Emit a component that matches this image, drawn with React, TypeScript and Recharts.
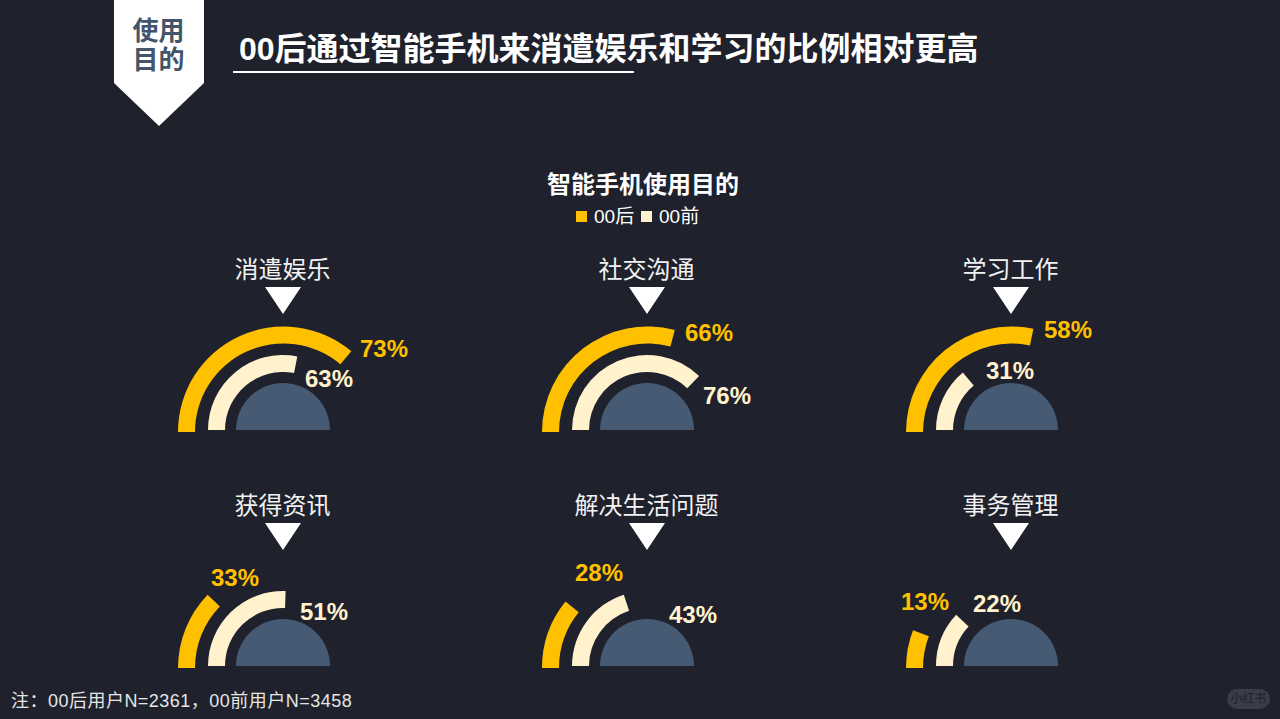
import React from 'react';
import { PieChart, Pie, Cell } from 'recharts';

const categories = ['消遣娱乐', '社交沟通', '学习工作', '获得资讯', '解决生活问题', '事务管理'];
// printed percentages
const after00 = [73, 66, 58, 33, 28, 13];
const before00 = [63, 76, 31, 51, 43, 22];
// how far each arc really goes round the half circle, in degrees (read off the picture, not the same as the labels)
const after00Sweep = [130, 105, 102, 44, 39, 21];
const before00Sweep = [101, 134, 50, 92, 72, 43];

const BG = '#1f212c';
const YELLOW = '#ffc000';
const CREAM = '#fff2cc';
const SLATE = '#475a73';
const FONT = '"Liberation Sans", "Noto Sans CJK SC", sans-serif';

const colX = [283, 647, 1011];
const rowY = [430, 666];
const after00Label = [[384, 349], [709, 333], [1068, 330], [235, 578], [599, 573], [925, 602]];
const before00Label = [[329, 379], [727, 396], [1010, 371], [324, 612], [693, 615], [997, 604]];

const centerOf = (i: number) => ({ x: colX[i % 3], y: rowY[Math.floor(i / 3)] });
const arc = (sweep: number) => [{ value: sweep }, { value: 180 - sweep }];

function Gauge(i: number) {
  const { x, y } = centerOf(i);
  const common = { dataKey: 'value', startAngle: 180, endAngle: 0, stroke: 'none', isAnimationActive: false };
  return [
    <Pie key={`a${i}`} {...common} data={arc(after00Sweep[i])} cx={x + 0.5} cy={y + 2} innerRadius={88.5} outerRadius={105.5}>
      <Cell fill={YELLOW} />
      <Cell fill="transparent" />
    </Pie>,
    <Pie key={`b${i}`} {...common} data={arc(before00Sweep[i])} cx={x} cy={y} innerRadius={58} outerRadius={75}>
      <Cell fill={CREAM} />
      <Cell fill="transparent" />
    </Pie>,
    <Pie key={`c${i}`} {...common} data={[{ value: 100 }]} cx={x} cy={y} innerRadius={0} outerRadius={47} fill={SLATE} />,
  ];
}

export default function App() {
  return (
    <div style={{ position: 'fixed', left: 0, top: 0, width: 1280, height: 719, background: BG, overflow: 'hidden' }}>
      <PieChart width={1280} height={719} margin={{ top: 0, right: 0, bottom: 0, left: 0 }} style={{ position: 'absolute', left: 0, top: 0 }}>
        {categories.map((_, i) => Gauge(i))}
      </PieChart>
      <svg width={1280} height={719} style={{ position: 'absolute', left: 0, top: 0 }} fontFamily={FONT}>
        <polygon points="114,0 204,0 204,83 159,126 114,83" fill="#fff" />
        <g fontWeight={700} fontSize={26} fill="#44546a" textAnchor="middle">
          <text x={158.5} y={40}>使用</text>
          <text x={158.5} y={69}>目的</text>
        </g>
        <text x={239} y={60} fontWeight={700} fontSize={32} fill="#fff">00后通过智能手机来消遣娱乐和学习的比例相对更高</text>
        <rect x={233} y={71} width={401} height={2} fill="#fff" />

        <text x={643} y={193} fontWeight={700} fontSize={24} fill="#fff" textAnchor="middle">智能手机使用目的</text>
        <rect x={576} y={211} width={11} height={11} fill={YELLOW} />
        <text x={594} y={223} fontSize={19} fill="#fff">00后</text>
        <rect x={641} y={211} width={11} height={11} fill={CREAM} />
        <text x={659} y={223} fontSize={19} fill="#fff">00前</text>

        {categories.map((name, i) => {
          const { x, y } = centerOf(i);
          return (
            <g key={name}>
              <text x={x - 0.5} y={y - 152} fontSize={24} fill="#f2f2f2" textAnchor="middle">{name}</text>
              <polygon points={`${x - 18},${y - 143} ${x + 18},${y - 143} ${x},${y - 116}`} fill="#fff" />
              <text x={after00Label[i][0]} y={after00Label[i][1] + 8} fontWeight={700} fontSize={24} fill={YELLOW} textAnchor="middle">{after00[i]}%</text>
              <text x={before00Label[i][0]} y={before00Label[i][1] + 8} fontWeight={700} fontSize={24} fill={CREAM} textAnchor="middle">{before00[i]}%</text>
            </g>
          );
        })}

        <text x={11} y={707} fontSize={18} letterSpacing={0.48} fill="#e6e6e6">注：00后用户N=2361，00前用户N=3458</text>
        <rect x={1227} y={689} width={43} height={20} rx={10} fill="#3a3c47" />
        <text x={1248.5} y={703} fontSize={12} fill="#20222c" textAnchor="middle">小红书</text>
      </svg>
    </div>
  );
}
